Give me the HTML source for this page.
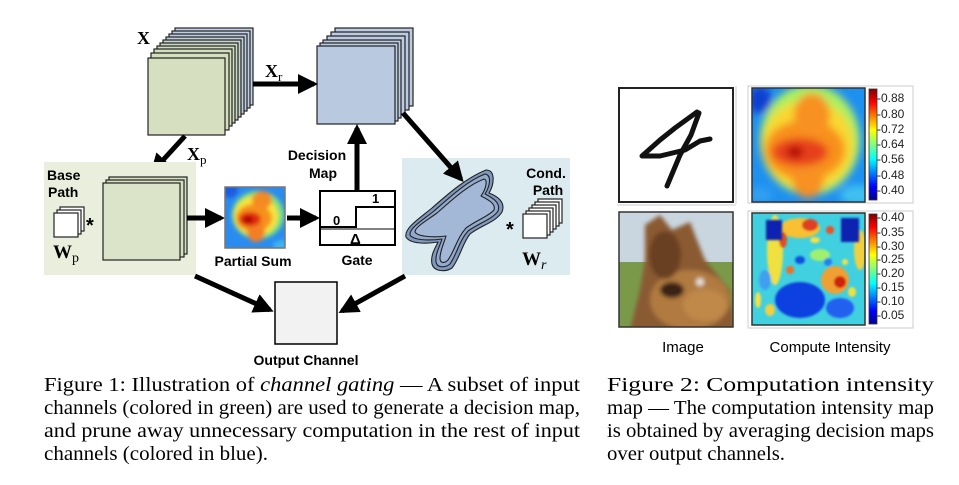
<!DOCTYPE html>
<html><head><meta charset="utf-8"><style>
html,body{margin:0;padding:0;background:#fff;}
svg{display:block}
.s{font-family:"Liberation Sans",sans-serif;font-weight:bold;font-size:14px;fill:#000}
.c{font-family:"Liberation Serif",serif;font-size:20.5px;fill:#000}
.t{font-family:"Liberation Sans",sans-serif;font-size:12px;fill:#222}
</style></head><body>
<svg width="959" height="485" viewBox="0 0 959 485" xmlns="http://www.w3.org/2000/svg">
<defs>
<marker id="ah" markerWidth="4" markerHeight="4" refX="3.2" refY="2" orient="auto" markerUnits="strokeWidth">
<path d="M0,0 L4,2 L0,4 z" fill="#000"/></marker>
<filter id="bl" x="-20%" y="-20%" width="140%" height="140%"><feGaussianBlur stdDeviation="4"/></filter>
<filter id="bl2" x="-20%" y="-20%" width="140%" height="140%"><feGaussianBlur stdDeviation="2"/></filter>
<filter id="bl1" x="-20%" y="-20%" width="140%" height="140%"><feGaussianBlur stdDeviation="1"/></filter>
<clipPath id="cp1"><rect x="752" y="88" width="113" height="114"/></clipPath>
<clipPath id="cp2"><rect x="752" y="213" width="113" height="112"/></clipPath>
<clipPath id="cp3"><rect x="225" y="187" width="60" height="61"/></clipPath>
<clipPath id="cp4"><rect x="619" y="212" width="114" height="115"/></clipPath>
<linearGradient id="jet" x1="0" y1="1" x2="0" y2="0">
<stop offset="0" stop-color="#00008f"/><stop offset="0.12" stop-color="#0000ff"/><stop offset="0.37" stop-color="#00ffff"/><stop offset="0.5" stop-color="#7fff7f"/><stop offset="0.63" stop-color="#ffff00"/><stop offset="0.88" stop-color="#ff0000"/><stop offset="1" stop-color="#800000"/></linearGradient>
</defs>

<g stroke="#222" stroke-width="1.2">
<rect x="175" y="28" width="78" height="77" fill="#c4d2e6"/>
<rect x="172" y="31" width="78" height="77" fill="#c1cfe3"/>
<rect x="169" y="34" width="78" height="77" fill="#bdcce0"/>
<rect x="166" y="37" width="78" height="77" fill="#c0cfd8"/>
<rect x="163" y="40" width="78" height="77" fill="#c6d4cc"/>
<rect x="160" y="43" width="78" height="77" fill="#ccd9c2"/>
<rect x="157" y="46" width="78" height="77" fill="#d0dcbd"/>
<rect x="154" y="49" width="78" height="77" fill="#d3debb"/>
<rect x="151" y="53" width="78" height="77" fill="#d5dfbd"/>
<rect x="148" y="58" width="77" height="77" fill="#d6e0c0"/>
</g>
<text x="137" y="44" font-family="Liberation Serif,serif" font-weight="bold" font-size="18">X</text>
<g stroke="#222" stroke-width="1.2">
<rect x="335" y="28" width="78" height="78" fill="#bccbe0"/>
<rect x="331" y="32" width="78" height="78" fill="#bccbe0"/>
<rect x="327" y="36" width="78" height="78" fill="#bccbe0"/>
<rect x="323" y="40" width="78" height="78" fill="#bccbe0"/>
<rect x="320" y="43" width="78" height="78" fill="#bccbe0"/>
<rect x="317" y="46" width="78" height="78" fill="#b9c9df"/>
</g>
<line x1="253" y1="84" x2="314" y2="84" stroke="#000" stroke-width="5" marker-end="url(#ah)"/>
<text x="265" y="77" font-family="Liberation Serif,serif" font-weight="bold" font-size="18">X<tspan font-size="13" font-weight="normal" dy="4">r</tspan></text>
<line x1="185" y1="136" x2="153" y2="171" stroke="#000" stroke-width="5" marker-end="url(#ah)"/>
<text x="187" y="160" font-family="Liberation Serif,serif" font-weight="bold" font-size="18">X<tspan font-size="13" font-weight="normal" dy="4">p</tspan></text>

<rect x="44" y="162" width="152" height="113" fill="#eaeedd"/>
<g stroke="#222" stroke-width="1.2">
<rect x="109" y="177" width="78" height="77" fill="#d6e0c0"/>
<rect x="106" y="180" width="78" height="77" fill="#d6e0c0"/>
<rect x="103" y="183" width="77" height="77" fill="#dbe4c8"/>
</g>
<text x="47" y="180" class="s">Base</text>
<text x="48" y="197" class="s">Path</text>
<g stroke="#222" stroke-width="1.2" fill="#fff">
<rect x="60" y="207" width="24" height="24"/>
<rect x="57" y="210" width="24" height="24"/>
<rect x="54" y="213" width="24" height="24"/>
</g>
<text x="86" y="232" font-family="Liberation Sans,sans-serif" font-weight="bold" font-size="20">*</text>
<text x="53" y="258" font-family="Liberation Serif,serif" font-weight="bold" font-size="19">W<tspan font-size="14" font-weight="normal" dy="4">p</tspan></text>

<line x1="187" y1="218" x2="221" y2="218" stroke="#000" stroke-width="5" marker-end="url(#ah)"/>
<g clip-path="url(#cp3)">
<rect x="225" y="187" width="60" height="61" fill="#2a8cf0"/>
<g filter="url(#bl2)">
<ellipse cx="258" cy="215" rx="26" ry="24" fill="#7fe07a"/>
<ellipse cx="256" cy="216" rx="22" ry="20" fill="#f7e43a"/>
<ellipse cx="254" cy="218" rx="18" ry="14" fill="#f7901c"/>
<ellipse cx="262" cy="200" rx="10" ry="9" fill="#f48a20"/>
<ellipse cx="256" cy="232" rx="9" ry="10" fill="#f47f20"/>
<ellipse cx="250" cy="219" rx="11" ry="7" fill="#e02a10"/>
<ellipse cx="248" cy="220" rx="5" ry="4" fill="#b00000"/>
<ellipse cx="230" cy="190" rx="8" ry="8" fill="#1a5de0"/>
<ellipse cx="282" cy="246" rx="9" ry="6" fill="#3cb4f0"/>
</g></g>
<rect x="225" y="187" width="60" height="61" fill="none" stroke="#777" stroke-width="1.5"/>
<text x="253" y="266" class="s" text-anchor="middle">Partial Sum</text>
<line x1="287" y1="218" x2="316" y2="218" stroke="#000" stroke-width="5" marker-end="url(#ah)"/>

<rect x="320" y="191" width="75" height="54" fill="#fff" stroke="#000" stroke-width="2"/>
<polyline points="320,227 356,227 356,207 395,207" fill="none" stroke="#000" stroke-width="2"/>
<line x1="320" y1="229" x2="395" y2="229" stroke="#000" stroke-width="1"/>
<text x="333" y="225" font-family="Liberation Sans,sans-serif" font-weight="bold" font-size="13">0</text>
<text x="372" y="203" font-family="Liberation Sans,sans-serif" font-weight="bold" font-size="13">1</text>
<text x="350" y="244" font-family="Liberation Sans,sans-serif" font-weight="bold" font-size="15">Δ</text>
<text x="357" y="265" class="s" text-anchor="middle">Gate</text>
<line x1="357" y1="191" x2="357" y2="128" stroke="#000" stroke-width="5" marker-end="url(#ah)"/>
<text x="317" y="160" class="s" text-anchor="middle">Decision</text>
<text x="323" y="178" class="s" text-anchor="middle">Map</text>

<rect x="402" y="158" width="168" height="117" fill="#dcebf0"/>
<line x1="403" y1="113" x2="461" y2="179" stroke="#000" stroke-width="5" marker-end="url(#ah)"/>
<g stroke="#222" stroke-width="1.1" stroke-linejoin="round">
<path d="M486,170 C496,170 494,185 489,193 C497,196 506,202 502,212 C496,222 480,226 470,234 C462,244 460,258 452,268 C446,272 434,272 432,264 C430,255 436,247 438,242 C426,244 410,244 406,237 C404,228 420,218 432,208 C448,194 466,178 486,170 Z" fill="#7f98bd"/>
<path d="M485,174 C492,175 490,186 485,194 C493,198 501,203 498,211 C493,219 479,223 468,231 C459,241 457,254 450,264 C445,268 437,268 436,262 C435,254 440,246 442,239 C428,241 413,240 410,235 C409,228 423,220 434,211 C450,197 467,181 485,174 Z" fill="#92aacc"/>
<path d="M484,179 C488,180 486,189 481,196 C489,200 496,204 494,210 C489,216 477,220 466,228 C457,238 455,250 448,260 C444,264 440,263 440,258 C440,251 444,243 446,236 C431,238 417,236 415,232 C415,227 426,221 437,213 C452,200 468,185 484,179 Z" fill="#a2b8d6"/>
</g>
<text x="546" y="178" class="s" text-anchor="middle">Cond.</text>
<text x="548" y="195" class="s" text-anchor="middle">Path</text>
<g stroke="#222" stroke-width="1.2" fill="#fff">
<rect x="538" y="199" width="24" height="24"/>
<rect x="535" y="202" width="24" height="24"/>
<rect x="532" y="205" width="24" height="24"/>
<rect x="529" y="208" width="24" height="24"/>
<rect x="526" y="211" width="24" height="24"/>
<rect x="523" y="214" width="24" height="24"/>
</g>
<text x="506" y="236" font-family="Liberation Sans,sans-serif" font-weight="bold" font-size="20">*</text>
<text x="522" y="265" font-family="Liberation Serif,serif" font-weight="bold" font-size="19">W<tspan font-size="14" font-style="italic" font-weight="normal" dy="4">r</tspan></text>

<rect x="275" y="282" width="62" height="62" fill="#f2f2f2" stroke="#000" stroke-width="1.5"/>
<line x1="195" y1="276" x2="270" y2="310" stroke="#000" stroke-width="5" marker-end="url(#ah)"/>
<line x1="405" y1="276" x2="342" y2="311" stroke="#000" stroke-width="5" marker-end="url(#ah)"/>
<text x="306" y="365" class="s" text-anchor="middle">Output Channel</text>

<rect x="619" y="88" width="114" height="114" fill="#fff" stroke="#222" stroke-width="2"/>
<line x1="736" y1="86" x2="736" y2="204" stroke="#ccc"/>
<line x1="617" y1="205" x2="736" y2="205" stroke="#ccc"/>
<g fill="none" stroke="#111" stroke-width="5" stroke-linecap="round" stroke-linejoin="round">
<path d="M697,112 L675,128 L660,140 L642,156 L660,156 L685,150 L700,141 L710,139"/>
<path d="M699,113 L691,135 L680,155 L667,186"/>
</g>
<rect x="748" y="86" width="165" height="117" fill="#fff" stroke="#ccc"/>
<g clip-path="url(#cp1)">
<rect x="752" y="88" width="113" height="114" fill="#1e90f0"/>
<g filter="url(#bl)">
<ellipse cx="810" cy="140" rx="50" ry="55" fill="#aef060"/>
<ellipse cx="808" cy="145" rx="46" ry="45" fill="#f8d830"/>
<ellipse cx="805" cy="150" rx="40" ry="30" fill="#f8901c"/>
<ellipse cx="812" cy="115" rx="18" ry="22" fill="#f89020"/>
<ellipse cx="808" cy="180" rx="16" ry="18" fill="#f89020"/>
<ellipse cx="800" cy="152" rx="28" ry="14" fill="#e8401a"/>
<ellipse cx="795" cy="152" rx="8" ry="6" fill="#b00000"/>
<ellipse cx="760" cy="100" rx="12" ry="14" fill="#1040d0"/>
<ellipse cx="858" cy="195" rx="18" ry="10" fill="#40c0f0"/>
<ellipse cx="760" cy="195" rx="12" ry="8" fill="#30a0f0"/>
</g></g>
<rect x="752" y="88" width="113" height="114" fill="none" stroke="#333" stroke-width="1.5"/>
<rect x="869" y="89" width="8" height="111" fill="url(#jet)" stroke="#333" stroke-width="0.8"/>
<g class="t">
<text x="877" y="102">-0.88</text><text x="877" y="118">-0.80</text><text x="877" y="133">-0.72</text><text x="877" y="148">-0.64</text><text x="877" y="163">-0.56</text><text x="877" y="179">-0.48</text><text x="877" y="194">-0.40</text>
</g>

<g clip-path="url(#cp4)">
<rect x="619" y="212" width="114" height="115" fill="#c9d6e0"/>
<rect x="619" y="262" width="114" height="65" fill="#7a9a4a"/>
<g filter="url(#bl2)">
<path d="M645,225 L660,215 L672,230 L690,222 L695,235 L705,260 L730,290 L735,330 L630,330 L640,290 L645,260 Z" fill="#8a5a30"/>
<ellipse cx="690" cy="300" rx="40" ry="30" fill="#b07a40"/>
<ellipse cx="665" cy="255" rx="16" ry="24" fill="#6a4020"/>
<ellipse cx="672" cy="290" rx="12" ry="8" fill="#3a2418"/>
<ellipse cx="700" cy="282" rx="4" ry="4" fill="#e8e0d8"/>
<ellipse cx="705" cy="305" rx="22" ry="16" fill="#c08848"/>
</g></g>
<rect x="619" y="212" width="114" height="115" fill="none" stroke="#333" stroke-width="1.5"/>

<rect x="748" y="211" width="165" height="117" fill="#fff" stroke="#ccc"/>
<g clip-path="url(#cp2)">
<rect x="752" y="213" width="113" height="112" fill="#40d0e0"/>
<g filter="url(#bl1)">
<ellipse cx="775" cy="250" rx="8" ry="35" fill="#f0e040"/>
<ellipse cx="800" cy="228" rx="20" ry="10" fill="#f8c030"/>
<ellipse cx="835" cy="280" rx="14" ry="14" fill="#f0a030"/>
<ellipse cx="840" cy="282" rx="6" ry="6" fill="#d02010"/>
<ellipse cx="810" cy="225" rx="8" ry="6" fill="#e04020"/>
<ellipse cx="783" cy="240" rx="4" ry="8" fill="#e05020"/>
<ellipse cx="820" cy="255" rx="10" ry="6" fill="#a0f070"/>
<ellipse cx="800" cy="300" rx="25" ry="18" fill="#1040e0"/>
<ellipse cx="840" cy="308" rx="14" ry="10" fill="#2060f0"/>
<ellipse cx="765" cy="280" rx="6" ry="10" fill="#40a0f0"/>
<ellipse cx="860" cy="250" rx="6" ry="20" fill="#f0d040"/>
<ellipse cx="790" cy="270" rx="4" ry="4" fill="#f07020"/>
<ellipse cx="815" cy="240" rx="5" ry="3" fill="#f8e040"/>
<ellipse cx="828" cy="262" rx="4" ry="4" fill="#2080f0"/>
<ellipse cx="800" cy="260" rx="5" ry="4" fill="#1050e0"/>
<ellipse cx="770" cy="310" rx="5" ry="6" fill="#f0d040"/>
<ellipse cx="852" cy="292" rx="4" ry="5" fill="#f0e040"/>
<ellipse cx="830" cy="230" rx="4" ry="4" fill="#f05020"/>
<ellipse cx="845" cy="262" rx="3" ry="3" fill="#f8e040"/>
<ellipse cx="758" cy="300" rx="3" ry="8" fill="#f8e040"/>
</g>
<rect x="766" y="220" width="16" height="20" fill="#0820b0" filter="url(#bl1)"/>
<rect x="841" y="218" width="18" height="24" fill="#0820b0" filter="url(#bl1)"/>
</g>
<rect x="752" y="213" width="113" height="112" fill="none" stroke="#333" stroke-width="1.5"/>
<rect x="869" y="214" width="8" height="110" fill="url(#jet)" stroke="#333" stroke-width="0.8"/>
<g class="t">
<text x="877" y="221">-0.40</text><text x="877" y="236">-0.35</text><text x="877" y="250">-0.30</text><text x="877" y="263">-0.25</text><text x="877" y="277">-0.20</text><text x="877" y="291">-0.15</text><text x="877" y="305">-0.10</text><text x="877" y="319">-0.05</text>
</g>
<text x="683" y="352" font-family="Liberation Sans,sans-serif" font-size="15" text-anchor="middle">Image</text>
<text x="830" y="352" font-family="Liberation Sans,sans-serif" font-size="15" text-anchor="middle">Compute Intensity</text>

<text class="c" x="44" y="391" textLength="536" lengthAdjust="spacingAndGlyphs">Figure 1: Illustration of <tspan font-style="italic">channel gating</tspan> — A subset of input</text>
<text class="c" x="44" y="414" textLength="536" lengthAdjust="spacingAndGlyphs">channels (colored in green) are used to generate a decision map,</text>
<text class="c" x="44" y="437" textLength="536" lengthAdjust="spacingAndGlyphs">and prune away unnecessary computation in the rest of input</text>
<text class="c" x="44" y="460" textLength="224" lengthAdjust="spacingAndGlyphs">channels (colored in blue).</text>
<text class="c" x="607" y="391" textLength="327" lengthAdjust="spacingAndGlyphs">Figure 2:  Computation  intensity</text>
<text class="c" x="607" y="414" textLength="327" lengthAdjust="spacingAndGlyphs">map — The computation intensity map</text>
<text class="c" x="607" y="437" textLength="327" lengthAdjust="spacingAndGlyphs">is obtained by averaging decision maps</text>
<text class="c" x="607" y="460" textLength="178" lengthAdjust="spacingAndGlyphs">over output channels.</text>
</svg>
</body></html>
